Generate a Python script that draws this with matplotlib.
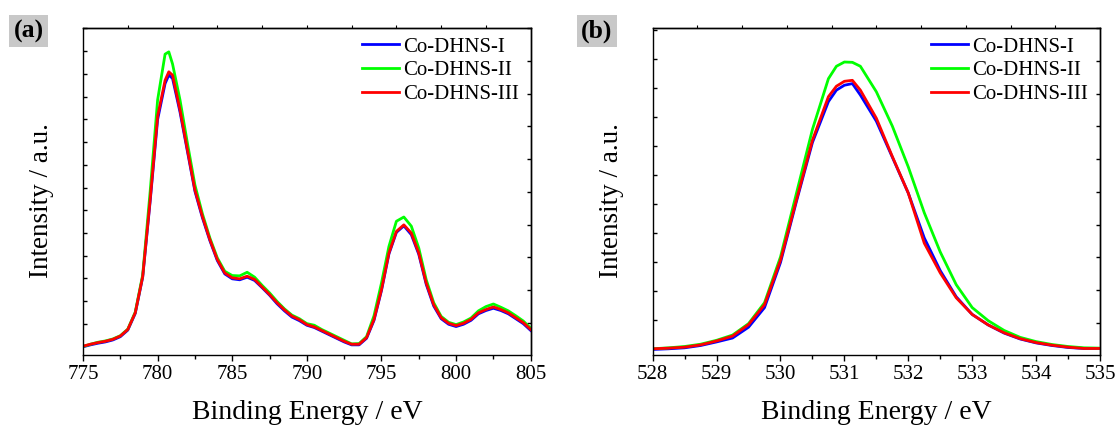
import matplotlib
matplotlib.use("Agg")
import matplotlib.pyplot as plt
from matplotlib.ticker import MultipleLocator

# Co 2p region (a)
ENERGY_CO = [775, 775.5, 776, 776.5, 777, 777.5, 778, 778.5, 779, 779.5,
             780, 780.5, 780.75, 781, 781.5, 782, 782.5, 783, 783.5, 784,
             784.5, 785, 785.5, 786, 786.5, 787, 787.5, 788, 788.5, 789,
             789.5, 790, 790.5, 791, 791.5, 792, 792.5, 793, 793.5, 794,
             794.5, 795, 795.5, 796, 796.5, 797, 797.5, 798, 798.5, 799,
             799.5, 800, 800.5, 801, 801.5, 802, 802.5, 803, 803.5, 804,
             804.5, 805]
CO_I = [2.5, 3.1, 3.6, 4.0, 4.6, 5.6, 7.6, 12.7, 23.8, 47.0,
        72.0, 83.0, 85.6, 84.6, 74.3, 62.2, 50.1, 42.0, 35.0, 28.9,
        24.8, 23.3, 23.0, 23.8, 22.8, 20.6, 18.3, 15.7, 13.5, 11.6,
        10.5, 9.1, 8.4, 7.3, 6.2, 5.1, 4.0, 3.1, 3.1, 5.1,
        10.6, 19.7, 30.9, 37.5, 39.5, 36.8, 30.8, 21.6, 15.0, 11.1,
        9.4, 8.7, 9.4, 10.6, 12.6, 13.6, 14.3, 13.6, 12.6, 11.1,
        9.6, 7.5]
CO_II = [2.6, 3.3, 3.9, 4.3, 4.9, 5.9, 7.9, 13.1, 24.5, 50.0,
         78.0, 92.0, 92.7, 89.0, 78.0, 64.7, 52.0, 43.2, 35.8, 29.7,
         25.6, 24.3, 24.2, 25.3, 23.8, 21.3, 19.0, 16.4, 14.1, 12.2,
         11.1, 9.6, 9.1, 7.8, 6.7, 5.6, 4.5, 3.4, 3.5, 5.6,
         12.0, 22.0, 33.2, 40.9, 42.2, 39.4, 32.7, 23.0, 16.0, 11.8,
         10.0, 9.3, 10.1, 11.3, 13.5, 14.8, 15.6, 14.6, 13.5, 12.0,
         10.4, 8.2]
CO_III = [2.7, 3.3, 3.8, 4.2, 4.8, 5.8, 7.8, 12.9, 24.0, 47.5,
          73.0, 84.0, 86.6, 85.6, 75.0, 62.7, 50.5, 42.4, 35.3, 29.2,
          25.1, 23.6, 23.3, 24.1, 23.1, 20.8, 18.5, 16.0, 13.8, 11.9,
          10.8, 9.3, 8.6, 7.5, 6.4, 5.3, 4.2, 3.3, 3.3, 5.3,
          10.9, 20.0, 31.2, 37.8, 39.8, 37.3, 31.2, 22.0, 15.4, 11.4,
          9.7, 9.0, 9.7, 10.9, 12.9, 13.9, 14.7, 13.9, 12.9, 11.4,
          9.9, 7.8]

# O 1s region (b)
ENERGY_O = [528, 528.25, 528.5, 528.75, 529, 529.25, 529.5, 529.75, 530, 530.25,
            530.5, 530.75, 530.875, 531, 531.125, 531.25, 531.5, 531.75, 532, 532.25,
            532.5, 532.75, 533, 533.25, 533.5, 533.75, 534, 534.25, 534.5, 534.75, 535]
O_I = [1.7, 1.9, 2.2, 2.9, 4.0, 5.2, 8.5, 14.5, 28.3, 47.0,
       65.0, 77.5, 81.0, 82.5, 83.0, 79.5, 71.5, 60.5, 49.5, 35.8,
       25.8, 17.8, 12.4, 9.2, 6.7, 4.9, 3.7, 2.9, 2.3, 2.0, 2.0]
O_II = [1.9, 2.2, 2.6, 3.3, 4.5, 6.1, 9.6, 16.0, 30.0, 49.5,
        69.0, 84.5, 88.3, 89.6, 89.5, 88.3, 80.5, 70.0, 57.5, 43.5,
        31.5, 21.5, 14.5, 10.5, 7.5, 5.4, 4.1, 3.2, 2.6, 2.2, 2.1]
O_III = [1.9, 2.1, 2.4, 3.1, 4.3, 5.8, 9.3, 15.4, 29.0, 47.5,
         65.7, 79.0, 82.2, 83.7, 84.0, 81.0, 72.4, 60.7, 49.5, 34.2,
         25.1, 17.5, 12.4, 9.2, 6.8, 5.0, 3.8, 3.0, 2.4, 2.0, 2.0]

LABELS = ["Co-DHNS-I", "Co-DHNS-II", "Co-DHNS-III"]
COLORS = ["#0000ff", "#00ff00", "#ff0000"]

plt.rcParams.update({
    "font.family": "Liberation Serif",
    "axes.linewidth": 1.0,
})


def ticks_from(start, step, stop):
    out = []
    v = start
    while v < stop:
        out.append(v)
        v += step
    return out


def style_axes(ax, xlim, xmajor, xminor, top_start, top_step,
               left_start, left_step, right_start, right_step):
    ax.set_xlim(*xlim)
    ax.set_ylim(0, 100)
    ax.xaxis.set_major_locator(MultipleLocator(xmajor))
    ax.xaxis.set_minor_locator(MultipleLocator(xminor))
    ax.tick_params(axis="x", which="major", direction="out", length=4,
                   width=1.0, labelsize=15, pad=3)
    ax.tick_params(axis="x", which="minor", direction="out", length=3, width=1.0)

    ax.set_yticks(ticks_from(left_start, left_step, 100))
    ax.tick_params(axis="y", which="major", direction="in", length=3,
                   width=1.0, labelleft=False)

    sec_r = ax.secondary_yaxis("right")
    sec_r.set_yticks(ticks_from(right_start, right_step, 100))
    sec_r.tick_params(direction="in", length=3, width=1.0, labelright=False)

    sec_t = ax.secondary_xaxis("top")
    sec_t.set_xticks(ticks_from(top_start, top_step, xlim[1]))
    sec_t.tick_params(direction="out", length=2, width=0.8, labeltop=False)

    ax.set_xlabel("Binding Energy / eV", fontsize=20, labelpad=12)
    ax.set_ylabel("Intensity / a.u.", fontsize=19.5)
    ax.yaxis.set_label_coords(-0.065, 0.471)
    ax.legend(loc="upper right", bbox_to_anchor=(1 - 12 / 447, 1 - 9 / 327),
              frameon=False, fontsize=15, borderpad=0, borderaxespad=0,
              handlelength=1.75, handletextpad=0.2, labelspacing=0.2)


fig = plt.figure(figsize=(11.2, 4.28), dpi=100)
ax_a = fig.add_axes([83 / 1120, 1 - 355 / 428, 447.7 / 1120, 327 / 428])
ax_b = fig.add_axes([652.7 / 1120, 1 - 355 / 428, 447.3 / 1120, 327 / 428])

for ys, lab, col in zip([CO_I, CO_II, CO_III], LABELS, COLORS):
    ax_a.plot(ENERGY_CO, ys, color=col, lw=2.0, label=lab)
for ys, lab, col in zip([O_I, O_II, O_III], LABELS, COLORS):
    ax_b.plot(ENERGY_O, ys, color=col, lw=2.0, label=lab)

style_axes(ax_a, (775, 805), 5, 2.5, 778, 3, 9.5, 6.95, 9.9, 10.0)
style_axes(ax_b, (528, 535), 1, 0.5, 528.7, 0.7, 10.7, 8.87, 9.9, 10.0)

for x, tag in [(28.5, "(a)"), (597, "(b)")]:
    fig.text(x / 1120, 1 - 31 / 428, tag, ha="center", va="center",
             fontsize=18.5, fontweight="bold",
             bbox=dict(boxstyle="square,pad=0.18", fc="#c8c8c8", ec="none"))

fig.savefig("out.png", dpi=100)
